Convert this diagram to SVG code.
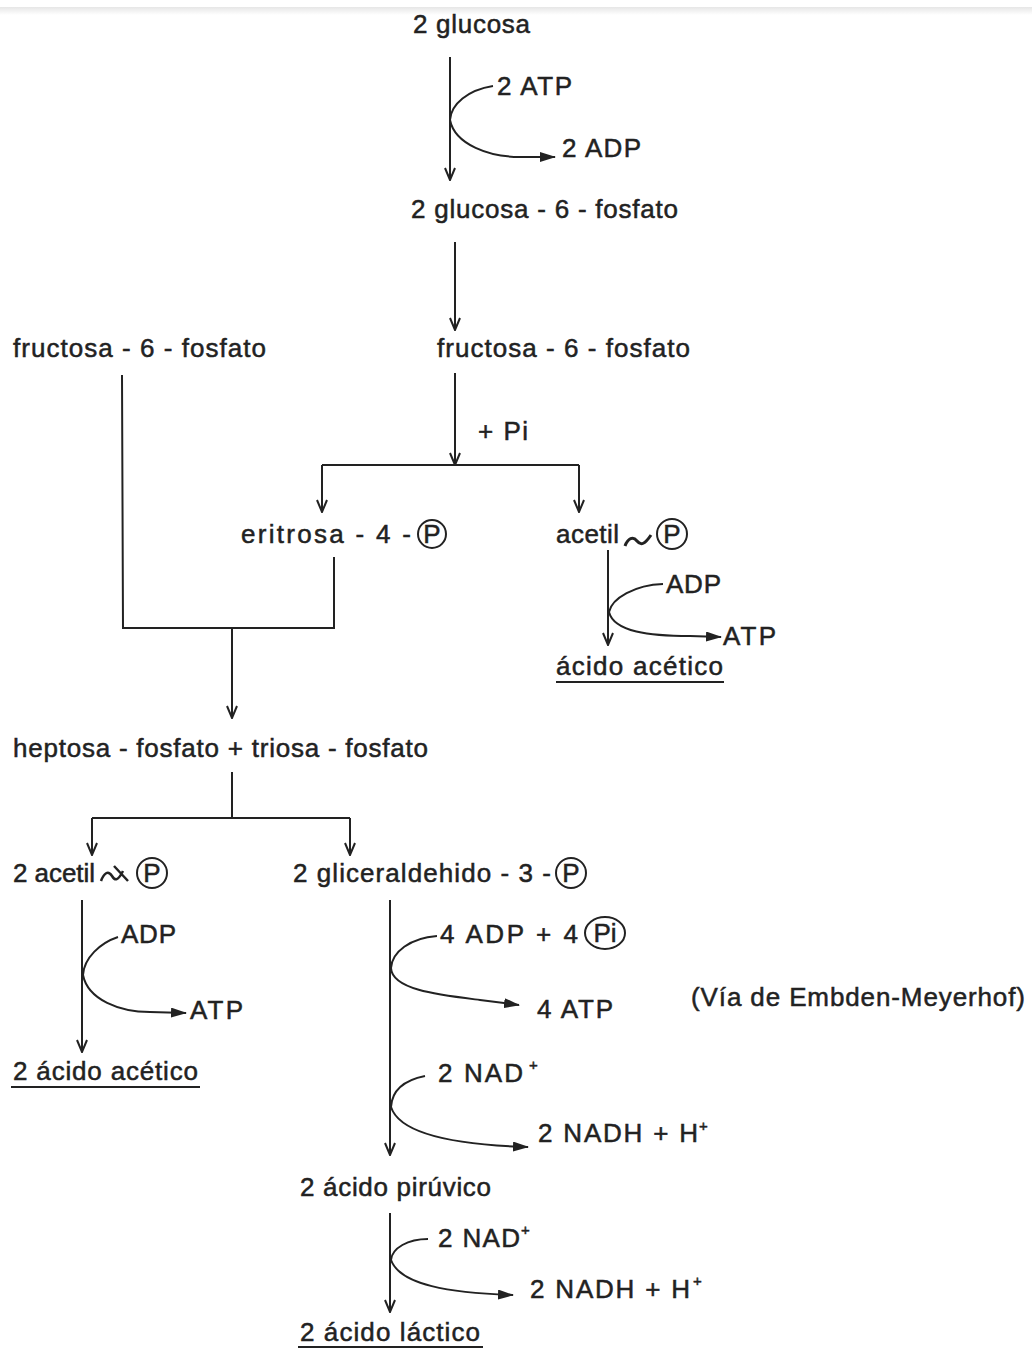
<svg xmlns="http://www.w3.org/2000/svg" width="1032" height="1350" viewBox="0 0 1032 1350">
<defs>
<linearGradient id="band" x1="0" y1="0" x2="0" y2="1"><stop offset="0" stop-color="#e6e6e6"/><stop offset="1" stop-color="#ffffff"/></linearGradient>
<marker id="v" viewBox="0 0 14 12" refX="13" refY="6" markerWidth="14" markerHeight="12" markerUnits="userSpaceOnUse" orient="auto"><path d="M1,1 L13,6 L1,11" fill="none" stroke="#222" stroke-width="2"/></marker>
<marker id="tri" viewBox="0 0 16 10" refX="15" refY="5" markerWidth="16" markerHeight="10" markerUnits="userSpaceOnUse" orient="auto"><path d="M0,0 L16,5 L0,10 z" fill="#222"/></marker>
</defs>
<style>
text{font-family:"Liberation Sans",Arial,sans-serif;font-size:26px;fill:#222;stroke:#222;stroke-width:0.5}
.sup{font-size:15px}
.ln{fill:none;stroke:#222;stroke-width:2}
.ar{fill:none;stroke:#222;stroke-width:2;marker-end:url(#v)}
.cv{fill:none;stroke:#222;stroke-width:2;marker-end:url(#tri)}
.pc{fill:none;stroke:#222;stroke-width:2}
</style>
<rect x="0" y="0" width="1032" height="1350" fill="#fff"/>
<rect x="0" y="7" width="1032" height="8" fill="url(#band)"/>

<g id="connectors">
<line class="ar" x1="450" y1="57" x2="450" y2="180"/>
<path class="cv" d="M493,86 C468,90 451,104 450,120 C455,145 490,157 520,157 L555,157"/>
<line class="ar" x1="455" y1="242" x2="455" y2="330"/>
<line class="ar" x1="455" y1="373" x2="455" y2="465"/>
<polyline class="ln" points="322,465 579,465"/>
<line class="ar" x1="322" y1="465" x2="322" y2="512"/>
<line class="ar" x1="579" y1="465" x2="579" y2="512"/>
<polyline class="ln" points="122,375 123,628 334,628 334,557"/>
<line class="ar" x1="232" y1="628" x2="232" y2="718"/>
<line class="ar" x1="608" y1="550" x2="608" y2="645"/>
<path class="cv" d="M663,584 C635,585 612,598 609,612 C614,632 650,636 690,636 L721,637"/>
<line class="ln" x1="232" y1="772" x2="232" y2="818"/>
<polyline class="ln" points="92,818 350,818"/>
<line class="ar" x1="92" y1="818" x2="92" y2="855"/>
<line class="ar" x1="350" y1="818" x2="350" y2="855"/>
<line class="ar" x1="82" y1="900" x2="82" y2="1052"/>
<path class="cv" d="M118,937 C100,943 84,958 83,975 C88,1000 120,1012 150,1012 L186,1013"/>
<line class="ar" x1="390" y1="900" x2="390" y2="1155"/>
<path class="cv" d="M437,936 C410,938 392,952 391,968 C392,990 440,995 480,1000 L519,1005"/>
<path class="cv" d="M425,1076 C405,1080 392,1090 391,1107 C400,1135 460,1145 528,1147"/>
<line class="ar" x1="390" y1="1213" x2="390" y2="1312"/>
<path class="cv" d="M428,1239 C408,1239 392,1248 391,1260 C400,1285 450,1293 513,1295"/>
</g>

<g id="n-glucosa"><text x="413" y="33" textLength="117" lengthAdjust="spacing">2  glucosa</text></g>
<g id="n-atp1"><text x="497" y="95" textLength="75" lengthAdjust="spacing">2 ATP</text></g>
<g id="n-adp1"><text x="562" y="157" textLength="79" lengthAdjust="spacing">2 ADP</text></g>
<g id="n-g6p"><text x="411" y="218" textLength="267" lengthAdjust="spacing">2 glucosa - 6 - fosfato</text></g>
<g id="n-f6p-left"><text x="13" y="357" textLength="253" lengthAdjust="spacing">fructosa - 6 - fosfato</text></g>
<g id="n-f6p-right"><text x="437" y="357" textLength="253" lengthAdjust="spacing">fructosa - 6 - fosfato</text></g>
<g id="n-pi"><text x="478" y="440" textLength="50" lengthAdjust="spacing">+ Pi</text></g>
<g id="n-eritrosa"><text x="241" y="543" textLength="170" lengthAdjust="spacing">eritrosa  - 4 -</text>
<circle class="pc" cx="432" cy="534" r="14"/><text x="432" y="543" text-anchor="middle">P</text></g>
<g id="n-acetilP"><text x="556" y="543" textLength="63" lengthAdjust="spacing">acetil</text>
<path class="ln" style="stroke-width:3" d="M625,546 C628,538 633,536 637,541 C641,546 645,544 651,535"/>
<circle class="pc" cx="672" cy="534" r="15"/><text x="672" y="543" text-anchor="middle">P</text></g>
<g id="n-adp2"><text x="666" y="593" textLength="55" lengthAdjust="spacing">ADP</text></g>
<g id="n-atp2"><text x="723" y="645" textLength="53" lengthAdjust="spacing">ATP</text></g>
<g id="n-acetico"><text x="556" y="675" textLength="167" lengthAdjust="spacing">ácido  acético</text><line class="ln" x1="556" y1="682" x2="724" y2="682"/></g>
<g id="n-heptosa"><text x="13" y="757" textLength="415" lengthAdjust="spacing">heptosa - fosfato + triosa - fosfato</text></g>
<g id="n-2acetilP"><text x="13" y="882" textLength="82" lengthAdjust="spacing">2 acetil</text>
<path class="ln" style="stroke-width:2.5" d="M101,881 C104,873 108,870 112,876 C115,881 118,881 123,871 M114,866 L128,881"/>
<circle class="pc" cx="152" cy="873" r="15"/><text x="152" y="882" text-anchor="middle">P</text></g>
<g id="n-gliceraldehido"><text x="293" y="882" textLength="258" lengthAdjust="spacing">2 gliceraldehido - 3 -</text>
<circle class="pc" cx="571" cy="873" r="15"/><text x="571" y="882" text-anchor="middle">P</text></g>
<g id="n-adp3"><text x="121" y="943" textLength="55" lengthAdjust="spacing">ADP</text></g>
<g id="n-atp3"><text x="190" y="1019" textLength="53" lengthAdjust="spacing">ATP</text></g>
<g id="n-2acetico"><text x="13" y="1080" textLength="185" lengthAdjust="spacing">2 ácido  acético</text><line class="ln" x1="11" y1="1087" x2="200" y2="1087"/></g>
<g id="n-4adp"><text x="440" y="943" textLength="138" lengthAdjust="spacing">4 ADP + 4</text>
<ellipse class="pc" cx="605" cy="933" rx="20" ry="16"/><text x="605" y="942" text-anchor="middle">Pi</text></g>
<g id="n-4atp"><text x="537" y="1018" textLength="76" lengthAdjust="spacing">4 ATP</text></g>
<g id="n-via"><text x="691" y="1006" textLength="334" lengthAdjust="spacing">(Vía de Embden-Meyerhof)</text></g>
<g id="n-nad1"><text x="438" y="1082" textLength="85" lengthAdjust="spacing">2 NAD</text><text class="sup" x="529" y="1070">+</text></g>
<g id="n-nadh1"><text x="538" y="1142" textLength="160" lengthAdjust="spacing">2 NADH + H</text><text class="sup" x="699" y="1131">+</text></g>
<g id="n-piruvico"><text x="300" y="1196" textLength="191" lengthAdjust="spacing">2 ácido pirúvico</text></g>
<g id="n-nad2"><text x="438" y="1247" textLength="82" lengthAdjust="spacing">2 NAD</text><text class="sup" x="521" y="1235">+</text></g>
<g id="n-nadh2"><text x="530" y="1298" textLength="160" lengthAdjust="spacing">2 NADH + H</text><text class="sup" x="693" y="1286">+</text></g>
<g id="n-lactico"><text x="300" y="1341" textLength="180" lengthAdjust="spacing">2 ácido  láctico</text><line class="ln" x1="298" y1="1347" x2="483" y2="1347"/></g>
</svg>
